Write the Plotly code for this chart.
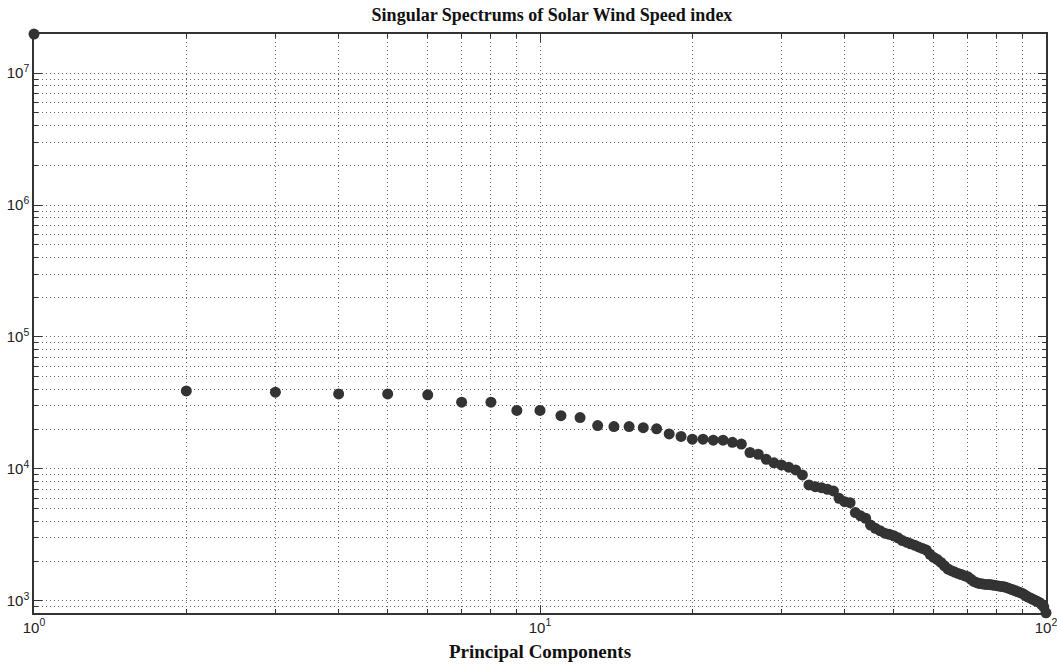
import plotly.graph_objects as go

# Principal component index and its singular value
components = list(range(1, 101))
singular_values = [
    1.98e7, 39000, 38100, 37000, 37000, 36400, 32000, 32000, 27700, 27700,
    25300, 24500, 21300, 20900, 20900, 20500, 20100, 18400, 17600, 16800,
    16800, 16500, 16500, 15900, 15400, 13300, 12900, 11800, 11100, 10700,
    10300, 9810, 9000, 7550, 7330, 7200, 7000, 6800, 5980, 5640,
    5540, 4660, 4400, 4220, 3750, 3540, 3400, 3250, 3190, 3110,
    3000, 2860, 2780, 2700, 2640, 2560, 2490, 2420, 2250, 2130,
    2050, 1950, 1840, 1740, 1690, 1650, 1610, 1580, 1550, 1520,
    1460, 1400, 1370, 1350, 1340, 1330, 1330, 1320, 1310, 1300,
    1290, 1280, 1270, 1250, 1230, 1210, 1190, 1170, 1150, 1130,
    1100, 1070, 1050, 1030, 1010, 990, 970, 940, 900, 810,
]

x_major = [1, 10, 100]
x_major_text = ["10<sup>0</sup>", "10<sup>1</sup>", "10<sup>2</sup>"]
x_minor = [m * d for d in (1, 10) for m in range(2, 10)]

y_major = [1e3, 1e4, 1e5, 1e6, 1e7]
y_major_text = ["10<sup>3</sup>", "10<sup>4</sup>", "10<sup>5</sup>",
                "10<sup>6</sup>", "10<sup>7</sup>"]
y_minor = [m * d for d in (1e2, 1e3, 1e4, 1e5, 1e6, 1e7) for m in range(2, 10)]

axis_color = "#333333"
grid_color = "#666666"
grid_dash = "1px,3px"

fig = go.Figure(
    go.Scatter(
        x=components,
        y=singular_values,
        mode="markers",
        marker=dict(size=11, color="#333333"),
        cliponaxis=False,
        showlegend=False,
    )
)

common = dict(
    ticks="inside",
    ticklen=8,
    tickwidth=1,
    tickcolor=axis_color,
    showline=True,
    linecolor=axis_color,
    linewidth=1.5,
    mirror="ticks",
    showgrid=True,
    gridcolor=grid_color,
    griddash=grid_dash,
    gridwidth=1,
    automargin=False,
    ticklabeloverflow="allow",
    tickfont=dict(family="Liberation Sans, Arial", size=15, color="#222222"),
)

fig.update_xaxes(
    type="log",
    range=[0, 2],
    tickmode="array",
    tickvals=x_major,
    ticktext=x_major_text,
    minor=dict(
        tickmode="array",
        tickvals=x_minor,
        ticks="inside",
        ticklen=4,
        tickcolor=axis_color,
        showgrid=True,
        gridcolor=grid_color,
        griddash=grid_dash,
    ),
    title=dict(
        text="<b>Principal Components</b>",
        font=dict(family="Liberation Serif, Times New Roman", size=19, color="#111111"),
        standoff=10,
    ),
    **common,
)

fig.update_yaxes(
    type="log",
    range=[2.907, 7.297],
    tickmode="array",
    tickvals=y_major,
    ticktext=y_major_text,
    minor=dict(
        tickmode="array",
        tickvals=y_minor,
        ticks="inside",
        ticklen=4,
        tickcolor=axis_color,
        showgrid=True,
        gridcolor=grid_color,
        griddash=grid_dash,
    ),
    **common,
)

fig.update_layout(
    width=1057,
    height=664,
    margin=dict(l=34, r=11, t=34, b=51),
    paper_bgcolor="white",
    plot_bgcolor="white",
    title=dict(
        text="<b>Singular Spectrums of Solar Wind Speed index</b>",
        font=dict(family="Liberation Serif, Times New Roman", size=18, color="#111111"),
        x=552 / 1057,
        xanchor="center",
        y=1 - 15 / 664,
        yanchor="middle",
    ),
)

fig.write_html("out.html")
